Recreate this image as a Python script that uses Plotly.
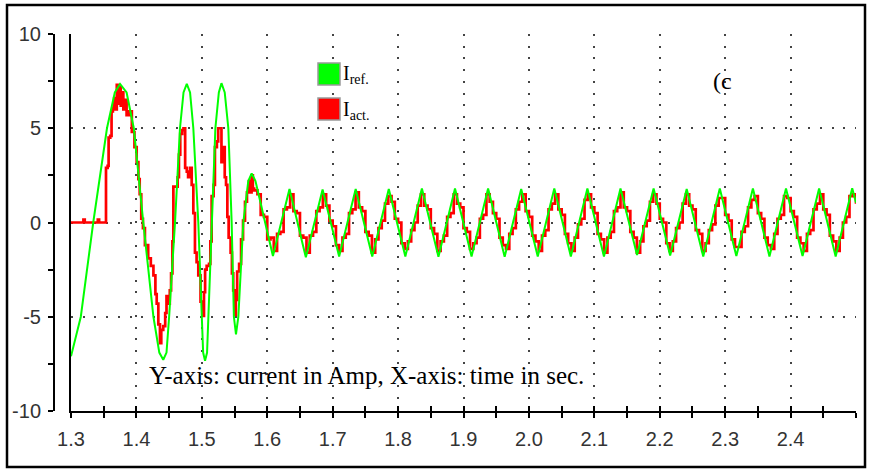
import plotly.graph_objects as go

# ---------------- data ----------------
X_MIN, X_MAX = 1.3, 2.5
Y_MIN, Y_MAX = -10, 10
X_LABEL_TICKS = [1.3, 1.4, 1.5, 1.6, 1.7, 1.8, 1.9, 2.0, 2.1, 2.2, 2.3, 2.4]
X_LABEL_TEXT = ["1.3", "1.4", "1.5", "1.6", "1.7", "1.8", "1.9", "2.0", "2.1", "2.2", "2.3", "2.4"]
X_GRID_TICKS = [1.3, 1.4, 1.5, 1.6, 1.7, 1.8, 1.9, 2.0, 2.1, 2.2, 2.3, 2.4, 2.5]
Y_TICKS = [-10, -5, 0, 5, 10]
Y_TICK_TEXT = ["-10", "-5", "0", "5", "10"]

# reference current (green)
t_ref = [1.300, 1.315, 1.334, 1.355, 1.367, 1.375, 1.385, 1.396, 1.4105, 1.426, 1.435, 1.441,
         1.446, 1.450, 1.459, 1.4666, 1.472, 1.477, 1.482, 1.487, 1.4946, 1.4997, 1.502, 1.5049,
         1.508, 1.510, 1.5151, 1.5207, 1.526, 1.530, 1.535, 1.5405, 1.5456, 1.549, 1.5522,
         1.5558, 1.5634, 1.571, 1.5762, 1.582, 1.6087,
         1.634, 1.659, 1.6846, 1.7099, 1.7352, 1.7605, 1.7858, 1.8111, 1.8364, 1.8617,
         1.8870, 1.9123, 1.9376, 1.9629, 1.9882, 2.0135, 2.0388, 2.0641, 2.0894, 2.1147,
         2.1400, 2.1653, 2.1906, 2.2159, 2.2412, 2.2665, 2.2918, 2.3171, 2.3424, 2.3677,
         2.3930, 2.4183, 2.4436, 2.4689, 2.4942, 2.500]
i_ref = [-7.1, -5.0, 0.0, 5.0, 6.9, 7.35, 6.9, 5.0, 0.0, -5.0, -6.9, -7.28,
         -6.9, -5.0, 0.0, 5.0, 6.9, 7.35, 6.9, 5.0, 0.0, -5.0, -6.9, -7.34,
         -6.9, -5.0, 0.0, 5.0, 6.9, 7.39, 6.9, 5.0, 0.0, -5.0, -5.93,
         -5.0, 0.0, 2.2, 2.6, 2.2, -1.78,
         1.78, -1.85, 1.75, -1.8, 1.78, -1.8, 1.78, -1.8, 1.8, -1.82,
         1.8, -1.8, 1.8, -1.82, 1.78, -1.8, 1.8, -1.8, 1.8, -1.8,
         1.8, -1.72, 1.8, -1.75, 1.78, -1.8, 1.8, -1.78, 1.8, -1.8,
         1.8, -1.78, 1.8, -1.8, 1.82, 1.05]

# actual current (red) - early transient
t_act_a = [1.300, 1.318, 1.319, 1.321, 1.340, 1.341, 1.343, 1.352, 1.3535, 1.356, 1.3575, 1.360,
           1.362, 1.364, 1.366, 1.368, 1.370, 1.372, 1.374, 1.376, 1.378, 1.380, 1.382, 1.385,
           1.389, 1.393, 1.397, 1.4004, 1.403, 1.405, 1.4074, 1.410, 1.413, 1.418, 1.422, 1.426,
           1.429, 1.431, 1.4335, 1.436, 1.438, 1.441, 1.444, 1.446, 1.449, 1.451, 1.453, 1.455,
           1.4565, 1.460, 1.463, 1.465, 1.467, 1.470, 1.472, 1.4745, 1.477, 1.479, 1.482, 1.4845,
           1.487, 1.4895, 1.492, 1.4946, 1.498, 1.5013, 1.5033, 1.505, 1.5074, 1.511, 1.513, 1.515,
           1.518, 1.520, 1.523, 1.525, 1.528, 1.530, 1.532, 1.535, 1.537, 1.539, 1.541, 1.544,
           1.546, 1.548, 1.550, 1.552, 1.554, 1.557, 1.560, 1.563, 1.566, 1.569, 1.572, 1.574,
           1.576, 1.578]
i_act_a = [0.0, 0.0, 0.15, 0.0, 0.0, 0.15, 0.0, 0.0, 2.9, 3.0, 4.5, 4.6,
           5.9, 6.1, 6.6, 6.0, 7.3, 6.3, 7.2, 6.2, 6.9, 6.0, 6.5, 5.7,
           5.9, 4.8, 4.0, 3.2, 2.3, 1.5, 0.2, -0.3, -1.2, -1.9, -2.3, -2.8,
           -3.8, -4.3, -5.4, -6.4, -5.7, -5.5, -4.8, -3.9, -4.3, -3.6, -2.7, -1.0,
           1.9, 1.9, 2.4, 3.6, 4.7, 4.9, 5.0, 2.9, 2.7, 2.4, 2.9, 2.0,
           0.5, -1.6, -2.1, -2.8, -4.2, -4.96, -3.7, -2.5, -2.3, -2.2, -1.0, 1.4,
           2.0, 4.0, 4.3, 5.0, 5.0, 3.2, 4.0, 2.4, 2.0, 0.3, -0.8, -1.6,
           -2.7, -3.6, -4.9, -4.1, -2.6, -2.2, -0.9, 0.1, 1.1, 1.6, 2.2, 1.6,
           2.5, 1.8]

# actual current (red) - steady state, sampled every 5 ms from 1.580 s
T_ACT_B_START = 1.580
T_ACT_B_STEP = 0.005
i_act_b = [1.7, 1.5, 0.4, 0.3, -0.9, -0.8, -1.5, -0.6, -0.5, 0.7,
           0.8, 1.5, 0.6, 0.5, -0.7, -0.8, -1.6, -0.7, -0.5, 0.6,
           0.8, 1.5, 0.9, 0.1, -0.2, -1.2, -1.5, -0.8, -0.6, 0.5,
           0.7, 1.6, 0.8, 0.6, -0.5, -0.7, -1.6, -0.9, -0.3, 0.1,
           1.0, 1.4, 1.1, 0.2, 0.0, -1.1, -1.4, -1.0, -0.4, 0.0,
           0.9, 1.5, 0.9, 0.7, -0.3, -0.6, -1.5, -1.0, -0.7, 0.3,
           0.5, 1.5, 1.0, 0.8, -0.3, -0.5, -1.4, -1.1, -0.8, 0.2,
           0.4, 1.5, 1.1, 0.5, 0.2, -0.8, -1.2, -1.4, -0.6, -0.3,
           0.7, 1.1, 1.5, 0.6, 0.3, -0.7, -1.0, -1.5, -0.7, -0.4,
           0.7, 1.0, 1.5, 0.7, 0.4, -0.6, -1.1, -1.5, -0.8, -0.1,
           0.2, 1.2, 1.5, 0.8, 0.5, -0.6, -0.9, -1.6, -0.8, -0.5,
           0.6, 0.8, 1.6, 0.8, 0.6, -0.5, -0.8, -1.6, -1.0, -0.2,
           0.1, 1.1, 1.5, 1.0, 0.2, 0.0, -1.1, -1.5, -1.0, -0.3,
           0.0, 1.0, 1.5, 0.9, 0.7, -0.4, -0.6, -1.5, -1.1, -0.4,
           -0.1, 0.9, 1.3, 1.3, 0.4, 0.1, -0.9, -1.3, -1.3, -0.5,
           -0.2, 0.8, 1.2, 1.4, 0.5, 0.2, -0.8, -1.2, -1.4, -0.6,
           0.2, 0.4, 1.4, 1.3, 0.6, 0.3, -0.8, -1.1, -1.5, -0.6,
           -0.4, 0.7, 1.0, 1.5, 0.7, 0.4, -0.7, -1.0, -1.5, -0.8,
           0.0, 0.3, 1.4, 1.5, 1.0]
t_act_b = [round(T_ACT_B_START + k * T_ACT_B_STEP, 4) for k in range(len(i_act_b))]

t_act = t_act_a + t_act_b
i_act = i_act_a + i_act_b

LEGEND_LABELS = ["I<sub>ref.</sub>", "I<sub>act.</sub>"]
COLOR_REF = "#00ff00"
COLOR_ACT = "#ff0000"
NOTE = "Y-axis: current in Amp, X-axis: time in sec."
PANEL = "(c"

# ---------------- layout helpers ----------------
WIDTH, HEIGHT = 870, 471
L, R, T, B = 54, 14, 34, 60
PW, PH = WIDTH - L - R, HEIGHT - T - B
X0_DOM = (71 - L) / PW


def px(x):
    return (x - L) / PW


def py(y):
    return (HEIGHT - B - y) / PH


fig = go.Figure()
fig.add_trace(go.Scatter(x=t_act, y=i_act, mode="lines", line=dict(color=COLOR_ACT, width=2.7, shape="hv"),
                         showlegend=False, hoverinfo="skip"))
fig.add_trace(go.Scatter(x=t_ref, y=i_ref, mode="lines", line=dict(color=COLOR_REF, width=2),
                         showlegend=False, hoverinfo="skip"))
# helper trace for the overlay axes (frame line at t=1.3, crossing ticks, last grid line)
fig.add_trace(go.Scatter(x=[X_MIN], y=[Y_MIN], xaxis="x2", yaxis="y2", mode="markers",
                         marker=dict(opacity=0), showlegend=False, hoverinfo="skip"))

tickfont = dict(family="Liberation Sans, Arial, sans-serif", size=20, color="#333333")
griddash = "2px,9.7px"
gridcolor = "#444444"

fig.update_layout(
    width=WIDTH, height=HEIGHT,
    margin=dict(l=L, r=R, t=T, b=B, pad=0),
    paper_bgcolor="white", plot_bgcolor="white",
    showlegend=False,
    xaxis=dict(domain=[X0_DOM, 1], range=[X_MIN, X_MAX], anchor="y",
               tickmode="array", tickvals=X_LABEL_TICKS, ticktext=X_LABEL_TEXT,
               ticks="outside", ticklen=5, tickwidth=1.5, tickcolor="black",
               minor=dict(dtick=0.05, tick0=X_MIN, ticks="outside", ticklen=5, tickwidth=1.5, tickcolor="black", showgrid=False),
               showline=True, linecolor="black", linewidth=2,
               showgrid=False,
               zeroline=False, tickfont=tickfont, ticklabelstandoff=4),
    xaxis2=dict(domain=[X0_DOM, 1], range=[X_MIN, X_MAX], anchor="y2", overlaying="x", side="bottom",
                tickmode="array", tickvals=X_GRID_TICKS, ticks="inside", ticklen=5, tickwidth=1.5, tickcolor="black",
                minor=dict(dtick=0.05, tick0=X_MIN, ticks="inside", ticklen=5, tickwidth=1.5, tickcolor="black", showgrid=False),
                showticklabels=False, showgrid=True, gridcolor=gridcolor, gridwidth=1.6, griddash=griddash,
                zeroline=False, showline=False),
    yaxis=dict(domain=[0, 1], range=[Y_MIN, Y_MAX], anchor="free", position=0,
               tickmode="array", tickvals=Y_TICKS, ticktext=Y_TICK_TEXT,
               ticks="outside", ticklen=5, tickwidth=1.5, tickcolor="black",
               minor=dict(dtick=2.5, tick0=Y_MIN, ticks="outside", ticklen=5, tickwidth=1.5, tickcolor="black", showgrid=False),
               showline=True, linecolor="black", linewidth=2,
               showgrid=True, gridcolor=gridcolor, gridwidth=1.6, griddash=griddash,
               zeroline=False, tickfont=tickfont, ticklabelstandoff=3),
    yaxis2=dict(domain=[0, 1], range=[Y_MIN, Y_MAX], anchor="x2", overlaying="y", side="left",
                showticklabels=False, ticks="", showgrid=False, zeroline=False,
                showline=True, linecolor="black", linewidth=2),
)

# outer frame
fig.add_shape(type="rect", xref="paper", yref="paper", x0=px(7), x1=px(865), y0=py(467), y1=py(5),
              line=dict(color="black", width=2.5), fillcolor="rgba(0,0,0,0)", layer="above")

# legend swatches and labels
for i, (lab, col) in enumerate(zip(LEGEND_LABELS, [COLOR_REF, COLOR_ACT])):
    top = 63 + i * 35
    fig.add_shape(type="rect", xref="paper", yref="paper", x0=px(318), x1=px(340), y0=py(top + 22), y1=py(top),
                  line=dict(color="#999999", width=1.5), fillcolor=col, layer="above")
    fig.add_annotation(xref="paper", yref="paper", x=px(341), y=py(top + 12), xanchor="left", yanchor="middle",
                       text=lab, showarrow=False,
                       font=dict(family="Liberation Serif, Times New Roman, serif", size=20, color="black"))

fig.add_annotation(xref="paper", yref="paper", x=px(711), y=py(81), xanchor="left", yanchor="middle",
                   text=PANEL, showarrow=False,
                   font=dict(family="Liberation Serif, Times New Roman, serif", size=24, color="black"))
fig.add_annotation(xref="paper", yref="paper", x=px(147), y=py(375), xanchor="left", yanchor="middle",
                   text=NOTE, showarrow=False,
                   font=dict(family="Liberation Serif, Times New Roman, serif", size=25, color="black"))

fig.write_html("out.html")
